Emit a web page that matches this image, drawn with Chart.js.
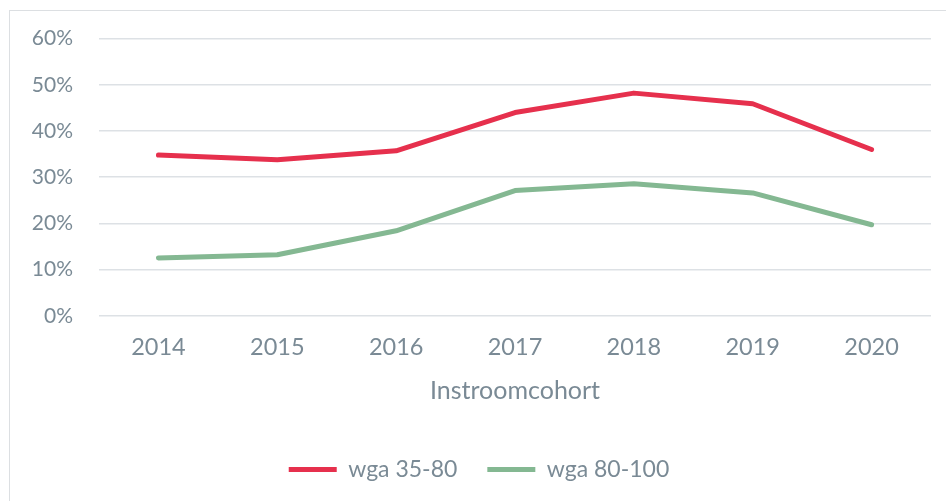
<!DOCTYPE html>
<html>
<head>
<meta charset="utf-8">
<script src="https://cdn.jsdelivr.net/npm/chart.js@4"></script>
<style>
  html, body { margin: 0; padding: 0; background: #fff; overflow: hidden; }
  #wrap { position: relative; width: 946px; height: 501px; }
  #frame {
    position: absolute; left: 9px; top: 10px; width: 1000px; height: 600px;
    border-left: 1px solid #dcdfe2; border-top: 1px solid #dcdfe2;
    pointer-events: none;
  }
  canvas { position: absolute; left: 0; top: 0; }
</style>
</head>
<body>
<div id="wrap">
  <canvas id="chart" width="946" height="501"></canvas>
  <div id="frame"></div>
</div>
<script>
// cohort years
const years = ["2014", "2015", "2016", "2017", "2018", "2019", "2020"];

// share per cohort (%)
const wga3580 = [34.8, 33.8, 35.7, 44.0, 48.2, 45.9, 36.0];
const wga80100 = [12.5, 13.2, 18.4, 27.1, 28.6, 26.6, 19.7];

const textColor = "#7a8a95";
const fontFamily = "Lato, 'Open Sans', sans-serif";

new Chart(document.getElementById("chart"), {
  type: "line",
  data: {
    labels: years,
    datasets: [
      {
        label: "wga 35-80",
        data: wga3580,
        borderColor: "#e6304d",
        backgroundColor: "#e6304d",
        borderWidth: 5,
        borderCapStyle: "round",
        borderJoinStyle: "round",
        pointRadius: 0,
        tension: 0
      },
      {
        label: "wga 80-100",
        data: wga80100,
        borderColor: "#84b892",
        backgroundColor: "#84b892",
        borderWidth: 5,
        borderCapStyle: "round",
        borderJoinStyle: "round",
        pointRadius: 0,
        tension: 0
      }
    ]
  },
  options: {
    responsive: false,
    animation: false,
    layout: {
      padding: { left: 27, right: 15, top: 32, bottom: 10 }
    },
    plugins: {
      tooltip: { enabled: false },
      legend: {
        position: "bottom",
        labels: {
          usePointStyle: true,
          pointStyle: "line",
          pointStyleWidth: 48,
          padding: 30,
          color: textColor,
          font: { family: fontFamily, size: 23 }
        }
      }
    },
    scales: {
      x: {
        offset: true,
        border: { display: false },
        grid: { display: false },
        ticks: {
          color: textColor,
          padding: 10,
          font: { family: fontFamily, size: 23.5 }
        },
        title: {
          display: true,
          text: "Instroomcohort",
          color: textColor,
          padding: { top: 6, bottom: 25 },
          font: { family: fontFamily, size: 25, lineHeight: 1 }
        }
      },
      y: {
        min: 0,
        max: 60,
        border: { display: false },
        grid: { color: "#dde1e5", lineWidth: 1.5, drawTicks: false },
        afterFit: s => { s.width = 72; },
        ticks: {
          stepSize: 10,
          padding: 26,
          color: textColor,
          font: { family: fontFamily, size: 21 },
          callback: v => v + "%"
        }
      }
    }
  }
});
</script>
</body>
</html>
